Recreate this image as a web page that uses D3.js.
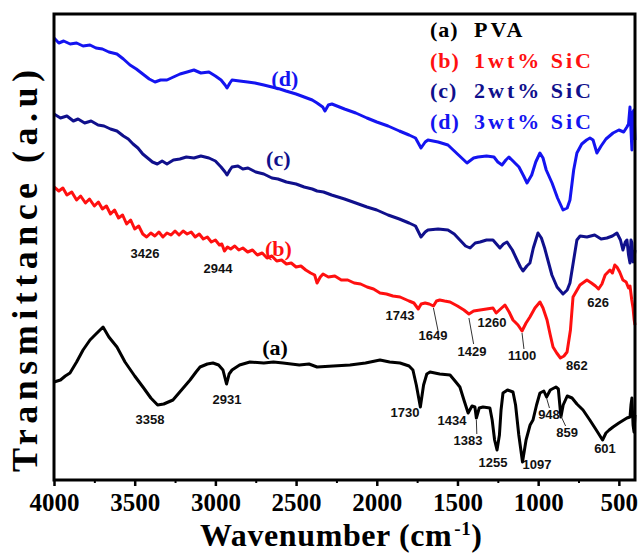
<!DOCTYPE html>
<html>
<head>
<meta charset="utf-8">
<script src="https://cdn.jsdelivr.net/npm/d3@7/dist/d3.min.js"></script>
<style>
  body { margin: 0; background: #fff; }
  svg text { font-family: "Liberation Serif", "Times New Roman", serif; font-weight: bold; }
  svg text.peak { font-family: "Liberation Sans", Arial, sans-serif; font-weight: bold; font-size: 13px; }
</style>
</head>
<body>
<svg id="chart" width="639" height="554"></svg>
<script>
// FTIR spectra of PVA and PVA/SiC films, values as [wavenumber (cm^-1), transmittance (a.u., offset)]
const majorTicks = [4000, 3500, 3000, 2500, 2000, 1500, 1000, 500];
const minorTicks = [3750, 3250, 2750, 2250, 1750, 1250, 750];
const curveTags = ["(a)", "(b)", "(c)", "(d)"];
const legendNames = ["PVA", "1wt% SiC", "2wt% SiC", "3wt% SiC"];

const pva = [
  [4000,98],[3960,100],[3930,104],[3901,107],[3860,118],[3820,130],[3777,140],[3740,146],[3696,153],
  [3660,143],[3610,133],[3560,118],[3500,104],[3449,93],[3400,82],[3358,75],[3320,76],[3263,80],
  [3210,90],[3157,100],[3120,108],[3095,113],[3050,116],[3015,117],[2980,115],[2953,110],[2931,96],
  [2915,106],[2897,110],[2850,115],[2786,118],[2700,117],[2640,118],[2581,117],[2480,115],[2420,116],
  [2370,113],[2270,114],[2166,115],[2070,117],[1980,120],[1920,118],[1856,117],[1800,114],[1776,110],
  [1755,95],[1730,73],[1710,95],[1690,106],[1670,108],[1610,106],[1546,105],[1510,98],[1485,93],
  [1460,80],[1434,67],[1410,74],[1392,73],[1383,62],[1365,72],[1342,73],[1299,72],[1285,60],[1270,40],
  [1255,30],[1240,45],[1230,70],[1218,87],[1190,90],[1156,88],[1140,75],[1120,45],[1097,18],[1075,40],
  [1050,55],[1032,60],[1010,75],[989,87],[965,89],[948,83],[925,90],[890,93],[875,91],[859,63],
  [845,75],[820,84],[790,82],[760,76],[722,70],[680,60],[640,50],[601,40],[580,47],[560,50],[536,53],
  [500,57],[470,60],[450,62],[431,63],[425,75],[419,82],[412,55],[406,48],[400,65]
];

const sic1 = [
  [4000,293],[3970,289],[3945,292],[3920,285],[3890,288],[3860,280],[3835,284],[3805,277],[3780,281],
  [3750,274],[3725,278],[3700,271],[3675,274],[3650,266],[3625,270],[3600,262],[3575,265],[3550,256],
  [3525,260],[3500,251],[3475,254],[3450,246],[3426,243],[3400,247],[3375,244],[3350,248],[3325,243],
  [3300,247],[3275,245],[3250,249],[3225,245],[3200,249],[3175,246],[3150,248],[3125,243],[3100,246],
  [3075,241],[3050,243],[3025,238],[3000,240],[2975,235],[2960,236],[2944,229],[2925,233],[2905,231],
  [2880,234],[2855,230],[2830,232],[2800,228],[2770,230],[2740,225],[2710,227],[2680,222],[2650,224],
  [2620,219],[2590,220],[2560,216],[2530,217],[2500,213],[2470,214],[2440,210],[2410,207],[2385,205],
  [2370,197],[2350,203],[2333,206],[2300,203],[2260,204],[2220,200],[2180,200],[2140,197],[2100,196],
  [2060,193],[2020,191],[1980,187],[1940,186],[1900,184],[1856,183],[1800,179],[1770,177],[1743,171],
  [1725,176],[1700,177],[1675,176],[1649,174],[1630,179],[1610,180],[1580,179],[1546,178],[1500,174],
  [1460,170],[1429,166],[1400,169],[1360,170],[1320,171],[1280,172],[1260,167],[1240,170],[1206,175],
  [1180,168],[1156,160],[1125,155],[1100,149],[1075,157],[1051,163],[1020,172],[989,178],[970,172],
  [945,160],[925,145],[908,133],[885,127],[862,122],[840,124],[821,128],[800,150],[784,183],[741,195],
  [698,200],[670,197],[645,194],[626,191],[605,196],[585,205],[555,210],[540,207],[525,215],[512,213],
  [495,208],[475,200],[455,198],[440,192],[431,194],[420,180],[412,172],[405,160],[400,155]
];

const sic2 = [
  [4000,366],[3960,362],[3920,364],[3880,359],[3851,361],[3810,357],[3770,359],[3727,355],[3690,354],
  [3650,351],[3610,349],[3570,344],[3540,341],[3510,336],[3480,332],[3450,326],[3420,322],[3390,318],
  [3360,316],[3330,319],[3300,316],[3260,320],[3220,321],[3180,323],[3133,322],[3090,324],[3040,322],
  [3000,319],[2965,313],[2940,308],[2928,305],[2910,310],[2897,313],[2860,314],[2830,311],[2798,312],
  [2750,308],[2700,306],[2650,302],[2612,301],[2560,298],[2500,296],[2450,293],[2400,291],[2370,289],
  [2330,288],[2280,285],[2200,281],[2130,277],[2061,273],[2000,270],[1930,265],[1860,261],[1800,257],
  [1760,254],[1726,243],[1700,248],[1683,250],[1620,251],[1559,250],[1520,246],[1485,240],[1450,234],
  [1422,232],[1390,237],[1360,238],[1320,240],[1280,240],[1237,232],[1215,236],[1193,238],[1160,230],
  [1131,220],[1110,213],[1094,209],[1070,214],[1051,217],[1030,232],[1001,247],[980,242],[960,232],
  [945,223],[915,205],[883,193],[846,186],[820,190],[803,197],[780,220],[760,240],[740,244],[698,243],
  [650,245],[610,241],[574,242],[540,244],[512,247],[490,240],[475,230],[460,238],[450,240],[440,225],
  [431,217],[425,240],[419,237],[412,218],[406,222],[400,230]
];

const sic3 = [
  [4000,442],[3970,437],[3940,439],[3900,436],[3860,437],[3820,434],[3777,435],[3740,432],[3700,431],
  [3660,428],[3610,426],[3570,421],[3529,415],[3490,411],[3442,405],[3410,401],[3374,398],[3340,400],
  [3300,400],[3260,403],[3219,406],[3175,408],[3133,410],[3090,407],[3040,408],[3000,404],[2965,400],
  [2940,395],[2928,392],[2910,397],[2897,400],[2850,399],[2800,398],[2755,397],[2700,395],[2650,393],
  [2600,391],[2563,389],[2500,386],[2450,383],[2400,380],[2370,377],[2335,373],[2321,369],[2300,375],
  [2278,376],[2200,371],[2130,367],[2061,362],[2000,358],[1930,354],[1860,349],[1800,345],[1760,342],
  [1726,332],[1700,338],[1683,340],[1620,338],[1559,335],[1500,326],[1441,317],[1400,322],[1373,323],
  [1320,324],[1274,323],[1250,318],[1224,315],[1200,320],[1181,323],[1150,318],[1119,313],[1090,304],
  [1069,297],[1040,305],[1015,318],[989,327],[970,322],[950,310],[914,297],[880,282],[846,270],
  [820,272],[803,280],[780,310],[760,327],[730,336],[700,340],[679,342],[660,340],[636,327],[610,334],
  [580,341],[536,347],[500,350],[470,348],[450,353],[440,356],[431,373],[425,350],[419,330],[412,368],
  [406,370],[400,340]
];

// Peak labels: [text, label x (cm^-1), label baseline (a.u.)]
const pvaPeaks = [
  ["3358",3405,56],["2931",2928,76],["1730",1825,63],["1434",1534,55],["1383",1435,35],
  ["1255",1280,13],["1097",1007,11],["948",933,61],["859",821,43],["601",586,27]
];
const sic1Peaks = [
  ["3426",3436,222],["2944",2984,207],["1743",1856,160],["1649",1652,140],["1429",1410,124],
  ["1260",1286,153],["1100",1100,120],["862",760,110],["626",629,173]
];
// Leader lines: [from cm^-1, from a.u., to cm^-1, to a.u.]
const leaders = [
  [1383,60,1380,46],[948,82,930,72],[859,64,830,54],
  [1649,172,1620,149],[1429,162,1400,136],[1100,147,1088,131]
];

const colors = ["#000000", "#ff1010", "#10108c", "#1414f0"];

const M = { left: 54, right: 635, top: 14, bottom: 480 };
const svg = d3.select("#chart");

const x = d3.scaleLinear().domain([4000, 400]).range([M.left, M.right]);
const y = d3.scaleLinear().domain([0, 466]).range([M.bottom, M.top]);

const line = d3.line().x(d => x(d[0])).y(d => y(d[1])).curve(d3.curveLinear);

const plot = svg.append("g");
[pva, sic1, sic2, sic3].forEach((s, i) => {
  plot.append("path").datum(s)
    .attr("d", line)
    .attr("fill", "none")
    .attr("stroke", colors[i])
    .attr("stroke-width", 3)
    .attr("stroke-linejoin", "round");
});

// frame
svg.append("rect")
  .attr("x", M.left).attr("y", M.top)
  .attr("width", M.right - M.left).attr("height", M.bottom - M.top)
  .attr("fill", "none").attr("stroke", "#000").attr("stroke-width", 3);

// x axis ticks and labels
const xAxis = d3.axisBottom(x).tickValues(majorTicks).tickSize(6).tickSizeOuter(0).tickPadding(7)
  .tickFormat(d3.format("d"));
const gx = svg.append("g").attr("transform", `translate(0,${M.bottom})`).call(xAxis);
gx.select(".domain").remove();
gx.selectAll(".tick line").attr("stroke-width", 2.5);
gx.selectAll(".tick text").attr("font-size", 25).attr("fill", "#000");
const xMinor = d3.axisBottom(x).tickValues(minorTicks).tickSize(3).tickSizeOuter(0).tickFormat("");
const gm = svg.append("g").attr("transform", `translate(0,${M.bottom})`).call(xMinor);
gm.select(".domain").remove();
gm.selectAll(".tick line").attr("stroke-width", 2);

// axis titles
const xt = svg.append("text").attr("x", 200).attr("y", 546).attr("font-size", 32)
  .attr("letter-spacing", 0.6).attr("fill", "#000");
xt.append("tspan").text("Wavenumber (cm");
xt.append("tspan").attr("font-size", 19).attr("dy", -11).attr("dx", 2).text("-1");
xt.append("tspan").attr("dy", 11).text(")");

svg.append("text")
  .attr("transform", "translate(37,271) rotate(-90)")
  .attr("text-anchor", "middle")
  .attr("font-size", 36)
  .attr("textLength", 402).attr("lengthAdjust", "spacing")
  .attr("fill", "#000")
  .text("Transmittance (a.u)");

// legend
const legend = svg.append("g");
curveTags.forEach((t, i) => {
  const by = 37 + i * 30.5;
  legend.append("text").attr("x", 430).attr("y", by).attr("font-size", 22)
    .attr("letter-spacing", 1).attr("fill", colors[i]).text(t);
  legend.append("text").attr("x", 474).attr("y", by).attr("font-size", 22)
    .attr("letter-spacing", 3).attr("fill", colors[i]).text(legendNames[i]);
});

// curve tags next to each spectrum
const tagPos = [[2630, 125], [2610, 224], [2610, 314], [2570, 394]];
curveTags.forEach((t, i) => {
  svg.append("text").attr("x", x(tagPos[i][0])).attr("y", y(tagPos[i][1]))
    .attr("text-anchor", "middle").attr("font-size", 22).attr("fill", colors[i]).text(t);
});

// peak annotations
const ann = svg.append("g");
[...pvaPeaks, ...sic1Peaks].forEach(p => {
  ann.append("text").attr("class", "peak")
    .attr("x", x(p[1])).attr("y", y(p[2]))
    .attr("text-anchor", "middle").attr("fill", "#111").text(p[0]);
});
leaders.forEach(l => {
  ann.append("line")
    .attr("x1", x(l[0])).attr("y1", y(l[1]))
    .attr("x2", x(l[2])).attr("y2", y(l[3]))
    .attr("stroke", "#333").attr("stroke-width", 1);
});
</script>
</body>
</html>
